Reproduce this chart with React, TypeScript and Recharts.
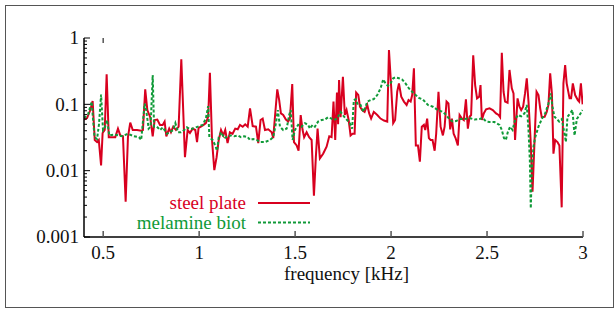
import React from 'react';
import { LineChart, Line, XAxis, YAxis, Legend, Label } from 'recharts';

const seriesNames = ['steel plate', 'melamine biot'];
const steelColor = '#d8001f';
const melColor = '#109a38';

const steelFreq = [
  0.400, 0.416, 0.433, 0.445, 0.456, 0.468, 0.477, 0.489, 0.497, 0.508, 0.518, 0.529, 0.546, 0.563, 0.577, 0.589,
  0.603, 0.617, 0.629, 0.641, 0.654, 0.676, 0.698, 0.707, 0.719, 0.730, 0.745, 0.758, 0.768, 0.782, 0.796, 0.810,
  0.820, 0.829, 0.844, 0.853, 0.865, 0.879, 0.893, 0.907, 0.926, 0.940, 0.952, 0.966, 0.980, 0.989, 0.997, 1.009,
  1.023, 1.035, 1.047, 1.056, 1.067, 1.079, 1.091, 1.102, 1.114, 1.126, 1.136, 1.148, 1.160, 1.174, 1.188, 1.201,
  1.213, 1.227, 1.240, 1.253, 1.265, 1.279, 1.296, 1.308, 1.320, 1.331, 1.343, 1.360, 1.378, 1.386, 1.395, 1.407,
  1.417, 1.426, 1.438, 1.452, 1.464, 1.473, 1.485, 1.494, 1.508, 1.518, 1.529, 1.539, 1.547, 1.560, 1.573, 1.586,
  1.598, 1.608, 1.617, 1.629, 1.646, 1.664, 1.678, 1.690, 1.700, 1.709, 1.718, 1.724, 1.729, 1.737, 1.749, 1.759,
  1.768, 1.779, 1.789, 1.799, 1.810, 1.818, 1.829, 1.838, 1.849, 1.862, 1.876, 1.886, 1.896, 1.910, 1.928, 1.945,
  1.963, 1.980, 1.989, 2.001, 2.011, 2.021, 2.032, 2.041, 2.053, 2.067, 2.081, 2.091, 2.102, 2.110, 2.119, 2.129,
  2.140, 2.150, 2.160, 2.171, 2.178, 2.188, 2.197, 2.206, 2.216, 2.227, 2.235, 2.247, 2.258, 2.270, 2.279, 2.289,
  2.299, 2.308, 2.317, 2.326, 2.336, 2.348, 2.357, 2.369, 2.379, 2.390, 2.400, 2.409, 2.417, 2.428, 2.438, 2.448,
  2.459, 2.466, 2.473, 2.483, 2.495, 2.513, 2.530, 2.547, 2.560, 2.568, 2.577, 2.586, 2.594, 2.607, 2.617, 2.629,
  2.638, 2.646, 2.659, 2.669, 2.678, 2.688, 2.698, 2.707, 2.716, 2.727, 2.737, 2.747, 2.758, 2.768, 2.777, 2.785,
  2.800, 2.811, 2.820, 2.829, 2.838, 2.846, 2.855, 2.867, 2.877, 2.889, 2.898, 2.907, 2.915, 2.930, 2.938, 2.947,
  2.959, 2.973, 2.980, 2.989, 2.998,
];
const steelVal = [
  0.059, 0.062, 0.082, 0.112, 0.029, 0.027, 0.029, 0.012, 0.037, 0.041, 0.283, 0.032, 0.032, 0.032, 0.043, 0.034,
  0.033, 0.0034, 0.032, 0.053, 0.041, 0.041, 0.040, 0.041, 0.168, 0.082, 0.064, 0.033, 0.058, 0.059, 0.049, 0.049,
  0.055, 0.033, 0.043, 0.038, 0.046, 0.041, 0.046, 0.477, 0.016, 0.041, 0.037, 0.043, 0.041, 0.027, 0.044, 0.046,
  0.049, 0.052, 0.065, 0.30, 0.029, 0.0102, 0.016, 0.029, 0.041, 0.034, 0.041, 0.026, 0.038, 0.036, 0.043, 0.042,
  0.049, 0.046, 0.050, 0.046, 0.087, 0.047, 0.046, 0.026, 0.058, 0.061, 0.041, 0.042, 0.038, 0.031, 0.065, 0.168,
  0.116, 0.073, 0.069, 0.059, 0.055, 0.061, 0.202, 0.027, 0.024, 0.020, 0.069, 0.041, 0.032, 0.038, 0.032, 0.029,
  0.0042, 0.016, 0.043, 0.0153, 0.018, 0.023, 0.033, 0.032, 0.11, 0.029, 0.15, 0.05, 0.232, 0.064, 0.26, 0.069,
  0.082, 0.058, 0.034, 0.036, 0.036, 0.15, 0.138, 0.092, 0.082, 0.077, 0.098, 0.073, 0.061, 0.077, 0.069, 0.061,
  0.057, 0.055, 0.66, 0.174, 0.052, 0.058, 0.155, 0.207, 0.13, 0.11, 0.098, 0.116, 0.11, 0.138, 0.35, 0.024,
  0.024, 0.0137, 0.046, 0.049, 0.041, 0.061, 0.031, 0.029, 0.029, 0.020, 0.036, 0.155, 0.046, 0.034, 0.046, 0.11,
  0.103, 0.042, 0.061, 0.036, 0.031, 0.024, 0.069, 0.061, 0.058, 0.119, 0.043, 0.065, 0.069, 0.55, 0.195, 0.123,
  0.13, 0.195, 0.058, 0.073, 0.084, 0.087, 0.082, 0.073, 0.069, 0.064, 0.60, 0.155, 0.11, 0.106, 0.33, 0.174,
  0.146, 0.029, 0.123, 0.092, 0.082, 0.092, 0.146, 0.247, 0.11, 0.029, 0.0048, 0.026, 0.155, 0.138, 0.087, 0.064,
  0.065, 0.077, 0.098, 0.294, 0.146, 0.018, 0.029, 0.027, 0.024, 0.0028, 0.207, 0.39, 0.207, 0.123, 0.123, 0.207,
  0.138, 0.116, 0.11, 0.207, 0.10,
];

const melFreq = [
  0.400, 0.421, 0.440, 0.447, 0.455, 0.468, 0.478, 0.489, 0.499, 0.509, 0.520, 0.532, 0.561, 0.598, 0.629, 0.660,
  0.686, 0.698, 0.716, 0.724, 0.737, 0.747, 0.758, 0.765, 0.780, 0.796, 0.811, 0.832, 0.848, 0.864, 0.876, 0.890,
  0.905, 0.922, 0.936, 0.948, 0.966, 0.983, 1.001, 1.018, 1.035, 1.047, 1.053, 1.070, 1.084, 1.093, 1.102, 1.114,
  1.131, 1.148, 1.166, 1.183, 1.201, 1.218, 1.235, 1.253, 1.265, 1.282, 1.299, 1.317, 1.343, 1.369, 1.386, 1.400,
  1.410, 1.421, 1.438, 1.456, 1.469, 1.477, 1.487, 1.499, 1.516, 1.534, 1.551, 1.568, 1.577, 1.591, 1.603, 1.620,
  1.638, 1.655, 1.672, 1.690, 1.702, 1.719, 1.737, 1.754, 1.771, 1.785, 1.797, 1.806, 1.815, 1.827, 1.841, 1.855,
  1.867, 1.876, 1.893, 1.910, 1.928, 1.945, 1.959, 1.971, 1.983, 1.997, 2.011, 2.023, 2.041, 2.058, 2.075, 2.093,
  2.110, 2.128, 2.145, 2.166, 2.192, 2.218, 2.244, 2.270, 2.287, 2.305, 2.322, 2.339, 2.357, 2.383, 2.409, 2.435,
  2.461, 2.478, 2.495, 2.513, 2.539, 2.565, 2.577, 2.588, 2.598, 2.608, 2.620, 2.633, 2.646, 2.660, 2.678, 2.695,
  2.707, 2.716, 2.723, 2.728, 2.733, 2.742, 2.751, 2.768, 2.785, 2.803, 2.820, 2.832, 2.841, 2.851, 2.864, 2.876,
  2.890, 2.900, 2.911, 2.919, 2.933, 2.945, 2.956, 2.968, 2.982, 2.998,
];
const melVal = [
  0.062, 0.07, 0.11, 0.06, 0.032, 0.030, 0.05, 0.14, 0.041, 0.045, 0.058, 0.034, 0.035, 0.033, 0.036, 0.033,
  0.032, 0.029, 0.103, 0.082, 0.043, 0.046, 0.277, 0.046, 0.046, 0.041, 0.045, 0.036, 0.038, 0.041, 0.052, 0.038,
  0.038, 0.041, 0.045, 0.043, 0.043, 0.045, 0.047, 0.049, 0.061, 0.094, 0.032, 0.029, 0.024, 0.020, 0.032, 0.038,
  0.031, 0.033, 0.034, 0.033, 0.034, 0.032, 0.033, 0.032, 0.029, 0.030, 0.029, 0.027, 0.027, 0.029, 0.032, 0.052,
  0.082, 0.046, 0.041, 0.043, 0.069, 0.082, 0.029, 0.041, 0.049, 0.046, 0.052, 0.049, 0.043, 0.049, 0.046, 0.055,
  0.058, 0.059, 0.064, 0.061, 0.058, 0.061, 0.077, 0.066, 0.058, 0.052, 0.043, 0.116, 0.12, 0.098, 0.098, 0.077,
  0.092, 0.11, 0.116, 0.12, 0.138, 0.174, 0.238, 0.207, 0.19, 0.207, 0.247, 0.255, 0.247, 0.236, 0.207, 0.174,
  0.155, 0.138, 0.125, 0.118, 0.098, 0.092, 0.082, 0.077, 0.069, 0.059, 0.055, 0.056, 0.060, 0.060, 0.062, 0.059,
  0.060, 0.062, 0.055, 0.054, 0.054, 0.049, 0.041, 0.031, 0.029, 0.038, 0.046, 0.041, 0.058, 0.069, 0.066, 0.073,
  0.098, 0.041, 0.0145, 0.0027, 0.0102, 0.023, 0.032, 0.046, 0.060, 0.073, 0.103, 0.146, 0.092, 0.065, 0.060, 0.055,
  0.060, 0.041, 0.027, 0.065, 0.073, 0.082, 0.034, 0.060, 0.069, 0.082,
];

const xTicks = [0.5, 1, 1.5, 2, 2.5, 3];
const yMajorTicks = [0.001, 0.01, 0.1, 1];
const yMinorTicks = [
  0.002, 0.003, 0.004, 0.005, 0.006, 0.007, 0.008, 0.009,
  0.02, 0.03, 0.04, 0.05, 0.06, 0.07, 0.08, 0.09,
  0.2, 0.3, 0.4, 0.5, 0.6, 0.7, 0.8, 0.9,
];
const topTicks = [0.5];

const steelData = steelFreq.map((f, i) => ({ f, v: steelVal[i] }));
const melData = melFreq.map((f, i) => ({ f, v: melVal[i] }));
const yAllTicks = [...yMajorTicks, ...yMinorTicks].sort((a, b) => a - b);

const FONT = "'Liberation Serif', 'DejaVu Serif', 'Times New Roman', Times, serif";
const textStyle = { fontFamily: FONT, fontSize: 19 };

const YTick = (props: any) => {
  const { x, y, payload } = props;
  const v = payload.value;
  const major = yMajorTicks.some((m) => Math.abs(m - v) < 1e-12);
  return (
    <g>
      <line x1={x} x2={x + (major ? 6 : 3)} y1={y} y2={y} stroke="#000" strokeWidth={1} />
      {major && (
        <text x={x - 5} y={y} dy="0.33em" textAnchor="end" style={textStyle} fill="#111">
          {String(v)}
        </text>
      )}
    </g>
  );
};

const XTick = (props: any) => {
  const { x, y, payload } = props;
  return (
    <g>
      <line x1={x} x2={x} y1={y} y2={y - 6} stroke="#555" strokeWidth={1.5} />
      <text x={x} y={y + 22} textAnchor="middle" style={textStyle} fill="#111">
        {String(payload.value)}
      </text>
    </g>
  );
};

const TopTick = (props: any) => {
  const { x, y } = props;
  return <line x1={x} x2={x} y1={y} y2={y + 5} stroke="#555" strokeWidth={1.5} />;
};

const legendRows: Record<string, { textY: number; lineY: number; dash?: string }> = {
  [seriesNames[0]]: { textY: 208.5, lineY: 203 },
  [seriesNames[1]]: { textY: 228.5, lineY: 222.5, dash: '3 2' },
};

const renderLegend = (props: any) => {
  const payload = props.payload || [];
  return (
    <svg width={616} height={310} style={{ display: 'block' }}>
      {payload.map((entry: any, i: number) => {
        const r = legendRows[entry.value] || { textY: 208.5, lineY: 203 };
        return (
          <g key={i}>
            <text x={246} y={r.textY} textAnchor="end" style={textStyle} fill={entry.color}>
              {entry.value}
            </text>
            <line
              x1={258}
              x2={310}
              y1={r.lineY}
              y2={r.lineY}
              stroke={entry.color}
              strokeWidth={2}
              strokeDasharray={r.dash}
            />
          </g>
        );
      })}
    </svg>
  );
};

export default function App() {
  return (
    <div style={{ position: 'absolute', left: 0, top: 0, width: 616, height: 310, background: '#fff', fontFamily: FONT }}>
      <div
        style={{
          position: 'absolute',
          left: 5,
          top: 5,
          width: 609,
          height: 303,
          border: '1px solid #555',
          boxSizing: 'border-box',
        }}
      />
      <LineChart width={616} height={310} margin={{ top: 33, right: 33, left: 0, bottom: 0 }} style={{ fontFamily: FONT }}>
        <XAxis
          xAxisId="main"
          type="number"
          dataKey="f"
          domain={[0.4, 3]}
          allowDataOverflow
          ticks={xTicks}
          interval={0}
          height={73}
          tickSize={0}
          tickMargin={0}
          tickLine={false}
          tick={<XTick />}
          axisLine={{ stroke: '#000', strokeWidth: 1.5 }}
        >
          <Label
            value="frequency [kHz]"
            position="insideBottom"
            offset={30}
            dx={13}
            style={{ fontSize: 19, fontFamily: FONT, fill: '#111' }}
          />
        </XAxis>
        <XAxis
          xAxisId="top"
          orientation="top"
          type="number"
          dataKey="f"
          domain={[0.4, 3]}
          allowDataOverflow
          ticks={topTicks}
          interval={0}
          height={5}
          tickSize={0}
          tickMargin={0}
          tickLine={false}
          tick={<TopTick />}
          axisLine={false}
        />
        <YAxis
          type="number"
          scale="log"
          domain={[0.001, 1]}
          allowDataOverflow
          ticks={yAllTicks}
          interval={0}
          width={84}
          tickSize={0}
          tickMargin={0}
          tickLine={false}
          tick={<YTick />}
          axisLine={{ stroke: '#000', strokeWidth: 1.5 }}
        />
        <Legend
          layout="horizontal"
          verticalAlign="middle"
          align="center"
          content={renderLegend}
          wrapperStyle={{ left: 0, top: 0, width: 616, height: 310, pointerEvents: 'none' }}
        />
        <Line
          xAxisId="main"
          data={steelData}
          dataKey="v"
          name={seriesNames[0]}
          type="linear"
          stroke={steelColor}
          strokeWidth={2}
          dot={false}
          isAnimationActive={false}
        />
        <Line
          xAxisId="main"
          data={melData}
          dataKey="v"
          name={seriesNames[1]}
          type="linear"
          stroke={melColor}
          strokeWidth={2}
          strokeDasharray="3 2"
          dot={false}
          isAnimationActive={false}
        />
      </LineChart>
    </div>
  );
}
